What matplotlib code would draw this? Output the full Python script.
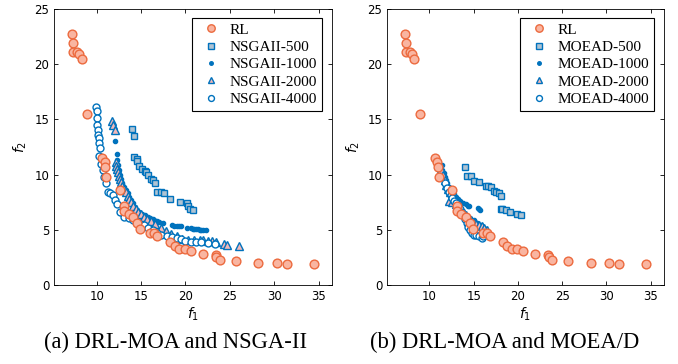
import numpy as np
import matplotlib.pyplot as plt

# RL front (same in both panels)
rl_f1 = [7.26, 7.37, 7.35, 7.8, 8.0, 8.3, 8.95, 10.6, 10.9, 10.95, 11.1, 12.6, 13.1, 13.1,
         13.6, 14.1, 14.6, 14.9, 16.0, 16.5, 16.8, 18.3, 18.8, 19.3, 19.9, 20.6, 21.95,
         23.4, 23.45, 23.9, 25.7, 28.2, 30.3, 31.4, 34.5]
rl_f2 = [22.7, 21.9, 21.1, 21.1, 20.9, 20.5, 15.5, 11.5, 11.1, 10.7, 9.8, 8.6, 7.2, 6.7,
         6.4, 6.2, 5.65, 5.1, 4.75, 4.75, 4.45, 3.85, 3.55, 3.3, 3.25, 3.05, 2.8,
         2.7, 2.55, 2.25, 2.2, 2.0, 1.95, 1.9, 1.9]

# NSGA-II fronts
ns500_f1 = [13.95, 14.2, 14.25, 14.5, 14.6, 14.8, 15.1, 15.4, 15.6, 15.75, 16.1, 16.4, 16.6,
            16.8, 17.3, 17.6, 18.3, 19.4, 20.15, 20.3, 20.5, 20.9]
ns500_f2 = [14.1, 13.5, 11.6, 11.4, 11.2, 10.8, 10.5, 10.35, 10.2, 9.95, 9.6, 9.5, 9.2,
            8.4, 8.4, 8.3, 7.8, 7.55, 7.45, 7.15, 6.9, 6.75]

ns1000_f1 = [12.07, 12.25, 12.3, 12.4, 12.5, 12.6, 12.75, 12.9, 13.1, 13.3, 13.5, 13.7, 13.9,
             14.1, 14.3, 14.5, 14.8, 15.1, 15.5, 15.8, 16.0, 16.3, 16.5, 16.8, 17.0, 17.5,
             18.5, 18.7, 19.0, 19.3, 19.5, 20.2, 20.6, 20.8, 21.0, 21.2, 21.4, 21.6, 21.8,
             22.0, 22.3]
ns1000_f2 = [13.0, 11.85, 11.3, 10.9, 10.4, 10.0, 9.6, 9.2, 8.9, 8.6, 8.3, 8.0, 7.7,
             7.4, 7.1, 6.8, 6.6, 6.4, 6.3, 6.2, 6.1, 6.0, 5.9, 5.8, 5.7, 5.6,
             5.4, 5.35, 5.3, 5.3, 5.3, 5.2, 5.15, 5.1, 5.1, 5.05, 5.05, 5.0, 5.0,
             5.0, 4.95]

ns2000_f1 = [11.7, 11.85, 12.1, 12.15, 12.2, 12.3, 12.4, 12.5, 12.6, 12.75, 12.9, 13.1, 13.3,
             13.5, 13.7, 13.9, 14.1, 14.4, 14.7, 15.0, 15.3, 15.7, 16.1, 16.6, 17.2, 17.8,
             18.4, 19.0, 19.6, 20.3, 21.0, 21.6, 22.0, 22.5, 23.0, 23.4, 24.3, 24.7, 26.0]
ns2000_f2 = [14.9, 14.5, 14.05, 11.1, 10.8, 10.5, 10.2, 9.9, 9.6, 9.3, 9.0, 8.7, 8.4,
             8.1, 7.8, 7.5, 7.2, 6.9, 6.6, 6.4, 6.2, 6.0, 5.8, 5.5, 5.2, 4.9,
             4.6, 4.4, 4.2, 4.1, 4.05, 4.1, 4.05, 4.0, 3.95, 3.9, 3.7, 3.65, 3.55]

ns4000_f1 = [9.96, 10.0, 10.04, 10.08, 10.1, 10.2, 10.25, 10.3, 10.4, 10.3, 10.5, 10.7, 10.85,
             11.05, 11.3, 11.5, 11.8, 12.1, 12.25, 12.6, 13.1, 13.6, 14.1, 14.7, 15.3, 15.8,
             16.3, 16.8, 17.3, 17.9, 18.5, 19.0, 19.5, 20.0, 20.6, 21.2, 21.8, 22.5, 23.3]
ns4000_f2 = [16.15, 15.8, 15.1, 14.5, 14.05, 13.6, 13.3, 12.9, 12.4, 11.7, 11.0, 10.4, 9.8,
             9.2, 8.45, 8.3, 8.15, 7.7, 7.35, 6.6, 6.2, 6.05, 5.9, 5.7, 5.45, 5.2,
             4.95, 4.7, 4.55, 4.4, 4.35, 4.3, 4.15, 3.95, 3.9, 3.9, 3.85, 3.8, 3.7]

# MOEA/D fronts
mo500_f1 = [14.0, 14.23, 14.68, 15.05, 15.6, 16.35, 16.65, 16.9, 17.3, 17.5, 17.8, 18.05,
            18.1, 18.25, 18.65, 19.1, 19.9, 20.3]
mo500_f2 = [10.7, 9.9, 9.9, 9.4, 9.35, 9.0, 8.95, 8.85, 8.55, 8.4, 8.3, 8.05,
            6.9, 6.9, 6.75, 6.6, 6.4, 6.3]

mo1000_f1 = [11.46, 11.46, 11.6, 11.7, 11.9, 12.0, 12.2, 12.4, 12.6, 12.8, 13.0, 13.2,
             13.5, 13.8, 14.1, 14.3, 14.45, 15.45, 15.55, 15.7, 14.6, 15.0, 15.4, 15.8, 16.2]
mo1000_f2 = [10.87, 10.4, 10.1, 9.8, 9.5, 9.2, 8.9, 8.6, 8.4, 8.2, 8.0, 7.8,
             7.6, 7.4, 7.3, 7.2, 7.15, 6.95, 6.9, 6.8, 6.1, 5.9, 5.6, 5.4, 5.2]

mo2000_f1 = [11.3, 11.5, 11.7, 11.9, 12.1, 12.3, 12.5, 12.7, 12.9, 13.1, 13.3, 13.5,
             13.7, 13.9, 14.1, 14.3, 14.5, 14.7, 14.9, 15.1, 15.3, 15.6, 15.9, 16.2, 16.5,
             12.2, 12.6, 13.0, 13.4]
mo2000_f2 = [10.5, 10.0, 9.5, 9.1, 8.7, 8.4, 8.1, 7.9, 7.6, 7.4, 7.1, 6.9,
             6.7, 6.5, 6.3, 6.1, 5.95, 5.8, 5.7, 5.6, 5.5, 5.4, 5.3, 5.15, 5.0,
             7.6, 7.5, 7.3, 7.0]

mo4000_f1 = [11.8, 12.0, 12.2, 12.4, 12.6, 12.8, 13.0, 13.2, 13.4, 13.6, 13.8, 14.0,
             14.2, 14.4, 14.6, 14.8, 15.0, 15.3, 15.6, 15.9, 16.1]
mo4000_f2 = [9.25, 8.8, 8.45, 8.15, 7.9, 7.65, 7.4, 7.15, 6.9, 6.6, 6.3, 6.0,
             5.6, 5.25, 4.95, 4.7, 4.55, 4.5, 4.4, 4.3, 4.45]

blue = '#0072BD'
orange = '#EC6A3E'

plt.rcParams['font.family'] = 'DejaVu Sans'
fig = plt.figure(figsize=(6.78, 3.64), dpi=100)
ax1 = fig.add_axes([54/678, 1-285/364, 278/678, 276/364])
ax2 = fig.add_axes([387/678, 1-285/364, 277/678, 276/364])


def draw(ax, fronts, names):
    (f500, g500), (f1k, g1k), (f2k, g2k), (f4k, g4k) = fronts
    ax.plot(rl_f1, rl_f2, 'o', ms=6.3, mfc='#F9B5A1', mec=orange, mew=1.0, label='RL', zorder=5)
    ax.plot(f500, g500, 's', ms=4.5, mfc='#AFC3D3', mec=blue, mew=1.0, label=names[0])
    ax.plot(f1k, g1k, '.', ms=6, color=blue, label=names[1])
    ax.plot(f2k, g2k, '^', ms=5.5, mfc='#F2B8B8', mec=blue, mew=1.0, label=names[2])
    ax.plot(f4k, g4k, 'o', ms=5, mfc='white', mec=blue, mew=1.0, label=names[3])
    ax.set_xlim(5.2, 36.5)
    ax.set_ylim(0, 25)
    ax.set_xticks([10, 15, 20, 25, 30, 35])
    ax.set_yticks([0, 5, 10, 15, 20, 25])
    ax.tick_params(direction='in', top=True, right=True, labelsize=8.5, length=3, width=0.6)
    for s in ax.spines.values():
        s.set_linewidth(0.6)
    ax.set_xlabel('$f_1$', fontsize=10, labelpad=2)
    ax.set_ylabel('$f_2$', fontsize=10, labelpad=4)
    leg = ax.legend(loc='upper right', prop={'family': 'Liberation Serif', 'size': 11},
                    fancybox=False, edgecolor='black', framealpha=1, handletextpad=0.3,
                    borderpad=0.32, labelspacing=0.24, handlelength=1.8, markerscale=0.85,
                    bbox_to_anchor=(0.99, 0.995))
    leg.get_frame().set_linewidth(0.8)


draw(ax1, [(ns500_f1, ns500_f2), (ns1000_f1, ns1000_f2), (ns2000_f1, ns2000_f2),
           (ns4000_f1, ns4000_f2)],
     ['NSGAII-500', 'NSGAII-1000', 'NSGAII-2000', 'NSGAII-4000'])
draw(ax2, [(mo500_f1, mo500_f2), (mo1000_f1, mo1000_f2), (mo2000_f1, mo2000_f2),
           (mo4000_f1, mo4000_f2)],
     ['MOEAD-500', 'MOEAD-1000', 'MOEAD-2000', 'MOEAD-4000'])

fig.text(176/678, 1-342/364, '(a) DRL-MOA and NSGA-II', ha='center', va='center',
         family='Liberation Serif', fontsize=16.3)
fig.text(505/678, 1-342/364, '(b) DRL-MOA and MOEA/D', ha='center', va='center',
         family='Liberation Serif', fontsize=16.3)

fig.savefig('out.png', dpi=100)
